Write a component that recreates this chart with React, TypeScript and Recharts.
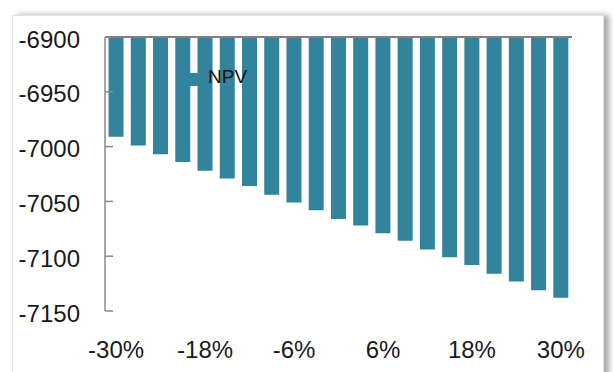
import { BarChart, Bar, XAxis, YAxis, Legend, ReferenceLine } from 'recharts';

const changes = [
  '-30%', '-27%', '-24%', '-21%', '-18%', '-15%', '-12%', '-9%', '-6%', '-3%', '0%',
  '3%', '6%', '9%', '12%', '15%', '18%', '21%', '24%', '27%', '30%',
];
const npv = [
  -6991, -6999, -7007, -7014, -7022, -7029, -7036, -7044, -7051, -7058, -7066,
  -7072, -7079, -7086, -7094, -7101, -7108, -7116, -7123, -7131, -7138,
];
const yTicks = [-6900, -6950, -7000, -7050, -7100, -7150];

const data = changes.map((c, i) => ({ change: c, npv: npv[i] }));

const FONT = '"Liberation Sans", Arial, sans-serif';
const BAR = '#31849B';

// value labels on the left, short tick marks pointing into the plot
function YTick(props: any) {
  const { x, y, payload } = props;
  const axisX = x + 25;
  return (
    <g>
      <line x1={axisX} x2={axisX + 8} y1={y} y2={y} stroke="#8a8a8a" strokeWidth={1.5} />
      <text x={x} y={y + 2} dy="0.355em" textAnchor="end" fontSize={24} fill="#1a1a1a" fontFamily={FONT}>
        {payload.value}
      </text>
    </g>
  );
}

export default function App() {
  return (
    <div style={{ position: 'absolute', left: 0, top: 0, width: 613, height: 372, background: '#fff', overflow: 'hidden' }}>
      <div
        style={{
          position: 'absolute', left: 12, top: 15, width: 590, height: 380,
          border: '1px solid #e2e2e2', background: '#fff',
          boxShadow: '5px 0 6px rgba(0,0,0,0.35)',
        }}
      />
      <div style={{ position: 'absolute', left: 0, top: 0 }}>
        <BarChart
          width={613}
          height={372}
          data={data}
          margin={{ top: 37, right: 41, bottom: 21, left: 0 }}
          barCategoryGap="16%"
        >
          <XAxis
            dataKey="change"
            interval={3}
            axisLine={false}
            tickLine={false}
            tickSize={0}
            tickMargin={30}
            height={40}
            tick={{ fontSize: 24, fill: '#1a1a1a', fontFamily: FONT }}
          />
          <YAxis
            domain={[-7150, -6900]}
            ticks={yTicks}
            interval={0}
            width={105}
            axisLine={{ stroke: '#8a8a8a', strokeWidth: 1.5 }}
            tickLine={false}
            tickSize={8}
            tickMargin={17}
            tick={<YTick />}
          />
          <Bar dataKey="npv" name="NPV" fill={BAR} isAnimationActive={false} />
          <ReferenceLine y={-6900} stroke="#808080" strokeWidth={2} />
          <Legend
            layout="vertical"
            align="center"
            verticalAlign="middle"
            iconType="square"
            iconSize={13}
            formatter={(v: string) => (
              <span style={{ color: '#111', fontSize: 19, fontFamily: FONT, paddingLeft: 5 }}>{v}</span>
            )}
            wrapperStyle={{ left: 186, top: 66, width: 90, textAlign: 'left' }}
          />
        </BarChart>
      </div>
    </div>
  );
}
